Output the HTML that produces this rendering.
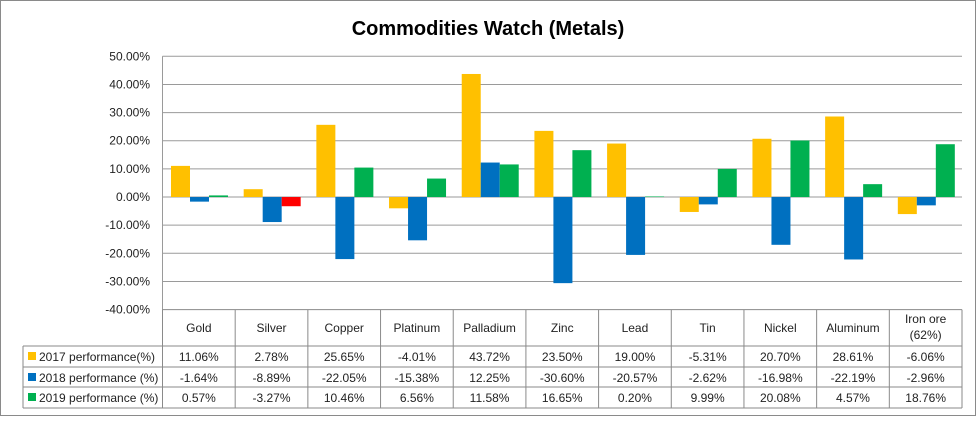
<!DOCTYPE html>
<html><head><meta charset="utf-8"><style>
body{margin:0;background:#fff}
svg text{font-family:"Liberation Sans",sans-serif;fill:#222}
</style></head><body>
<svg id="c" width="976" height="416" xmlns="http://www.w3.org/2000/svg">
<rect x="0.5" y="0.5" width="975" height="415" fill="#fff" stroke="#8a8a8a"/>
<text x="488" y="35" text-anchor="middle" font-size="20" font-weight="bold" style="fill:#000">Commodities Watch (Metals)</text>
</svg>
<script>
const categories=["Gold","Silver","Copper","Platinum","Palladium","Zinc","Lead","Tin","Nickel","Aluminum","Iron ore|(62%)"];
const s2017=[11.06,2.78,25.65,-4.01,43.72,23.50,19.00,-5.31,20.70,28.61,-6.06];
const s2018=[-1.64,-8.89,-22.05,-15.38,12.25,-30.60,-20.57,-2.62,-16.98,-22.19,-2.96];
const s2019=[0.57,-3.27,10.46,6.56,11.58,16.65,0.20,9.99,20.08,4.57,18.76];
const seriesNames=["2017 performance(%)","2018 performance (%)","2019 performance (%)"];
const yTicks=[50,40,30,20,10,0,-10,-20,-30,-40];
const svg=document.getElementById('c');const NS="http://www.w3.org/2000/svg";
function mk(t,a,p){const e=document.createElementNS(NS,t);for(const k in a)e.setAttribute(k,a[k]);(p||svg).appendChild(e);return e;}
const L=162.5,R=962,yTop=56.3,yBot=309.6,yMax=50,yMin=-40;
const y=v=>yTop+(yMax-v)/(yMax-yMin)*(yBot-yTop);
const cw=(R-L)/categories.length;
const x=i=>L+i*cw;
yTicks.forEach(t=>{
 if(t>yMin){const g=mk('line',{x1:L,x2:R,y1:y(t),y2:y(t),stroke:'#9a9a9a','stroke-width':1});
 
 }
 const lb=mk('text',{x:150,y:y(t)+4,'text-anchor':'end','font-size':12});lb.textContent=t.toFixed(2)+'%';
 
 
});
const ax=mk('line',{x1:L,x2:L,y1:yTop,y2:346,stroke:'#9a9a9a'});


const colors=["#FFC000","#0070C0","#00B050"];
const series=[s2017,s2018,s2019];
const bw=19,off=8.5;
categories.forEach((c,i)=>{
 series.forEach((s,k)=>{
  const v=s[i];let col=colors[k];if(k===2&&i===1)col="#FF0000";
  const b=mk('rect',{x:x(i)+off+k*bw,y:Math.min(y(v),y(0)),width:bw,height:Math.abs(y(v)-y(0)),fill:col});
  
  
 });
});
// data table
const hTop=309.6,hBot=346,rows=[346,367,387,408],tL=23;
const tg=mk('g',{stroke:'#8a8a8a','stroke-width':1,fill:'none'});


for(let i=0;i<=categories.length;i++)mk('line',{x1:x(i),x2:x(i),y1:hTop,y2:408},tg);
mk('line',{x1:L,x2:R,y1:hTop,y2:hTop},tg);
rows.forEach(r=>mk('line',{x1:tL,x2:R,y1:r,y2:r},tg));
mk('line',{x1:tL,x2:tL,y1:346,y2:408},tg);
categories.forEach((c,i)=>{
 const parts=c.split('|');const cx=x(i)+cw/2;
 parts.forEach((p,j)=>{const t=mk('text',{x:cx,y:(parts.length>1?323+j*16:332),'text-anchor':'middle','font-size':12});t.textContent=p;
 
 });
 series.forEach((s,k)=>{const t=mk('text',{x:cx,y:rows[k]+15,'text-anchor':'middle','font-size':12});t.textContent=s[i].toFixed(2)+'%';
 
 });
});
seriesNames.forEach((n,k)=>{
 const sw=mk('rect',{x:28,y:rows[k]+6,width:8,height:8,fill:colors[k]});
 
 
 const t=mk('text',{x:39,y:rows[k]+15,'font-size':12});t.textContent=n;
 
 
});
</script>
</body></html>
